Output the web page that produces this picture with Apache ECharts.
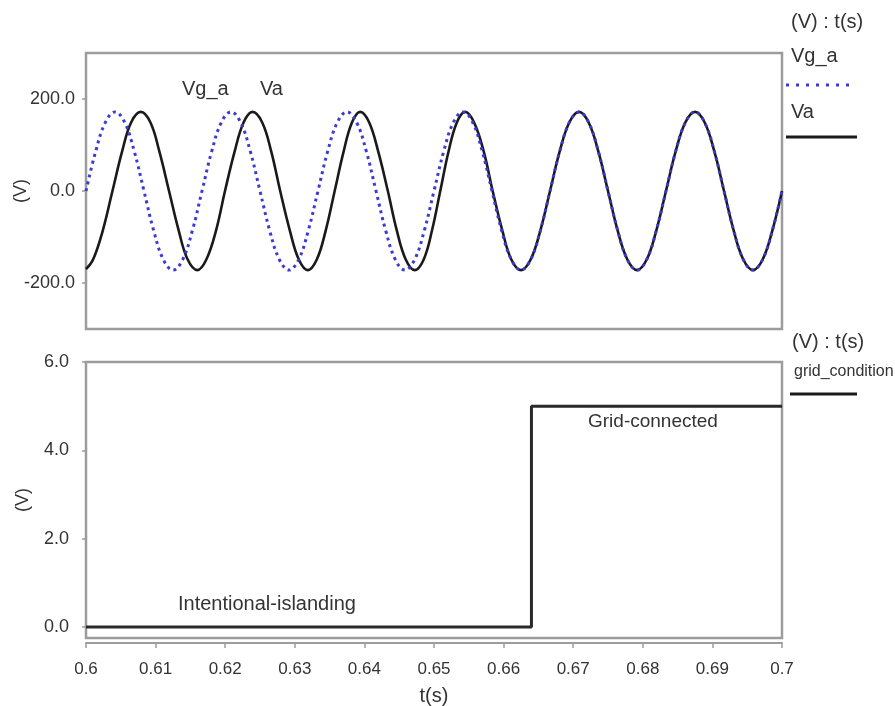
<!DOCTYPE html>
<html>
<head>
<meta charset="utf-8">
<script src="https://cdn.jsdelivr.net/npm/echarts@6/dist/echarts.min.js"></script>
<style>
html,body{margin:0;padding:0;background:#fff;}
#chart{width:895px;height:706px;}
</style>
</head>
<body>
<div id="chart"></div>
<script>
// ---- data ----
const timeVg = [0.6,0.60139,0.60278,0.60417,0.60556,0.60694,0.60833,0.60972,0.61111,0.6125,0.61389,0.61528,0.61667,0.61806,0.61944,0.62083,0.62222,0.62361,0.625,0.62639,0.62778,0.62917,0.63056,0.63194,0.63333,0.63472,0.63611,0.6375,0.63889,0.64028,0.64167,0.64306,0.64444,0.64583,0.64722,0.64861,0.65,0.65139,0.65278,0.65417,0.65556,0.65694,0.65833,0.65972,0.66111,0.6625,0.66389,0.66528,0.66667,0.66806,0.66944,0.67083,0.67222,0.67361,0.675,0.67639,0.67778,0.67917,0.68056,0.68194,0.68333,0.68472,0.68611,0.6875,0.68889,0.69028,0.69167,0.69306,0.69444,0.69583,0.69722,0.69861,0.7];
const vgA = [0,86,149,172,149,86,0,-86,-149,-172,-149,-86,
             0,86,149,172,149,86,0,-86,-149,-172,-149,-86,
             0,86,149,172,149,86,0,-86,-149,-172,-149,-86,
             0,86,149,172,149,86,0,-86,-149,-172,-149,-86,
             0,86,149,172,149,86,0,-86,-149,-172,-149,-86,
             0,86,149,172,149,86,0,-86,-149,-172,-149,-86,0];

const timeVa = [0.6,0.60102,0.60241,0.6038,0.60519,0.60648,0.60787,0.60926,0.61054,0.61193,0.61332,0.61461,0.616,0.61729,0.61868,0.61997,0.62136,0.62264,0.62393,0.62532,0.62661,0.6279,0.62929,0.63058,0.63187,0.63316,0.63444,0.63573,0.63702,0.63821,0.6394,0.64069,0.64198,0.64337,0.64466,0.64594,0.64723,0.64852,0.64971,0.6509,0.65209,0.65328,0.65447,0.65576,0.65714,0.65843,0.65982,0.66111,0.6625,0.66389,0.66528,0.66667,0.66806,0.66944,0.67083,0.67222,0.67361,0.675,0.67639,0.67778,0.67917,0.68056,0.68194,0.68333,0.68472,0.68611,0.6875,0.68889,0.69028,0.69167,0.69306,0.69444,0.69583,0.69722,0.69861,0.7];
const va = [-170,-149,-86,
            0,86,149,172,149,86,0,-86,-149,-172,-149,-86,
            0,86,149,172,149,86,0,-86,-149,-172,-149,-86,
            0,86,149,172,149,86,0,-86,-149,-172,-149,-86,
            0,86,149,172,149,86,0,-86,-149,-172,-149,-86,
            0,86,149,172,149,86,0,-86,-149,-172,-149,-86,
            0,86,149,172,149,86,0,-86,-149,-172,-149,-86,0];

const timeGrid = [0.6, 0.664, 0.664, 0.7];
const gridCondition = [0, 0, 5, 5];

const topYTicks = [-200, 0, 200];
const bottomYTicks = [0, 2, 4, 6];
const xTickVals = [0.6,0.61,0.62,0.63,0.64,0.65,0.66,0.67,0.68,0.69,0.7];
const xTickLabels = ['0.6','0.61','0.62','0.63','0.64','0.65','0.66','0.67','0.68','0.69','0.7'];

const seriesNames = ['Vg_a', 'Va', 'grid_condition'];
const unitLabel = '(V) : t(s)';
const stateLabels = ['Intentional-islanding', 'Grid-connected'];

// ---- helpers ----
const pairs = (xs, ys) => xs.map((x, i) => [x, ys[i]]);
const FONT = '"Liberation Sans",Arial,sans-serif';
const TXT = '#333';
const BORDER = '#9c9c9c';
const BLUE = '#3a3ad6';

const chart = echarts.init(document.getElementById('chart'), null, {renderer: 'canvas'});

const xLabelFmt = v => {
  const i = xTickVals.findIndex(t => Math.abs(t - v) < 1e-7);
  return i >= 0 ? xTickLabels[i] : '';
};
const txt = (text, left, top, size) => ({
  type: 'text', left: left, top: top,
  style: {text: text, fill: TXT, font: size + 'px ' + FONT}
});

const option = {
  backgroundColor: '#fff',
  animation: false,
  textStyle: {fontFamily: FONT},
  grid: [
    {left: 86, width: 696, top: 53, height: 276, outerBoundsMode: 'none', containLabel: false,
     show: true, borderColor: BORDER, borderWidth: 2.5, backgroundColor: '#fff'},
    {left: 86, width: 696, top: 362, height: 276, outerBoundsMode: 'none', containLabel: false,
     show: true, borderColor: BORDER, borderWidth: 2.5, backgroundColor: '#fff'}
  ],
  xAxis: [
    {type: 'value', gridIndex: 0, min: 0.6, max: 0.7, show: false},
    {type: 'value', gridIndex: 1, min: 0.6, max: 0.7,
     axisLine: {show: true, onZero: false, lineStyle: {color: BORDER, width: 2}},
     offset: 5,
     axisTick: {show: true, length: 5, customValues: xTickVals, lineStyle: {color: BORDER, width: 1.5}},
     axisLabel: {customValues: xTickVals, formatter: xLabelFmt, color: TXT, fontSize: 17, fontFamily: FONT, margin: 18},
     splitLine: {show: false},
     name: 't(s)', nameLocation: 'middle', nameGap: 43, nameMoveOverlap: false,
     nameTextStyle: {color: TXT, fontSize: 20, fontFamily: FONT}
    }
  ],
  yAxis: [
    {type: 'value', gridIndex: 0, min: -300, max: 300,
     axisLine: {show: false},
     axisTick: {show: true, length: 4, customValues: topYTicks, lineStyle: {color: BORDER, width: 1.5}},
     axisLabel: {customValues: topYTicks, formatter: v => v.toFixed(1), color: TXT, fontSize: 18, fontFamily: FONT, margin: 11},
     splitLine: {show: false},
     name: '(V)', nameLocation: 'middle', nameGap: 56, nameRotate: 90, nameMoveOverlap: false,
     nameTextStyle: {color: TXT, fontSize: 18, fontFamily: FONT}
    },
    {type: 'value', gridIndex: 1, min: -0.25, max: 6,
     axisLine: {show: false},
     axisTick: {show: true, length: 4, customValues: bottomYTicks, lineStyle: {color: BORDER, width: 1.5}},
     axisLabel: {customValues: bottomYTicks, formatter: v => v.toFixed(1), color: TXT, fontSize: 18, fontFamily: FONT, margin: 17},
     splitLine: {show: false},
     name: '(V)', nameLocation: 'middle', nameGap: 54, nameRotate: 90, nameMoveOverlap: false,
     nameTextStyle: {color: TXT, fontSize: 18, fontFamily: FONT}
    }
  ],
  series: [
    {name: seriesNames[1], type: 'line', xAxisIndex: 0, yAxisIndex: 0, data: pairs(timeVa, va),
     smooth: 0.4, showSymbol: false, lineStyle: {color: '#1a1a1a', width: 2.6}, z: 2},
    {name: seriesNames[0], type: 'line', xAxisIndex: 0, yAxisIndex: 0, data: pairs(timeVg, vgA),
     smooth: 0.4, showSymbol: false, lineStyle: {color: BLUE, width: 3, type: [3, 4]}, z: 3},
    {name: seriesNames[2], type: 'line', xAxisIndex: 1, yAxisIndex: 1, data: pairs(timeGrid, gridCondition),
     showSymbol: false, lineStyle: {color: '#2a2a2a', width: 3}, z: 2}
  ],
  graphic: [
    txt(seriesNames[0], 182, 79, 20),
    txt(seriesNames[1], 260, 79, 20),
    txt(stateLabels[0], 178, 594, 20),
    txt(stateLabels[1], 588, 412, 19),
    // legend top
    txt(unitLabel, 791, 12, 20),
    txt(seriesNames[0], 791, 46, 20),
    {type: 'line', shape: {x1: 786, y1: 85, x2: 856, y2: 85}, style: {stroke: BLUE, lineWidth: 3, lineDash: [3, 7]}},
    txt(seriesNames[1], 791, 102, 20),
    {type: 'line', shape: {x1: 786, y1: 137, x2: 857, y2: 137}, style: {stroke: '#1a1a1a', lineWidth: 3}},
    // legend bottom
    txt(unitLabel, 792, 332, 20),
    txt(seriesNames[2], 794, 364, 16),
    {type: 'line', shape: {x1: 790, y1: 394, x2: 857, y2: 394}, style: {stroke: '#1a1a1a', lineWidth: 3}}
  ]
};
chart.setOption(option);
</script>
</body>
</html>
